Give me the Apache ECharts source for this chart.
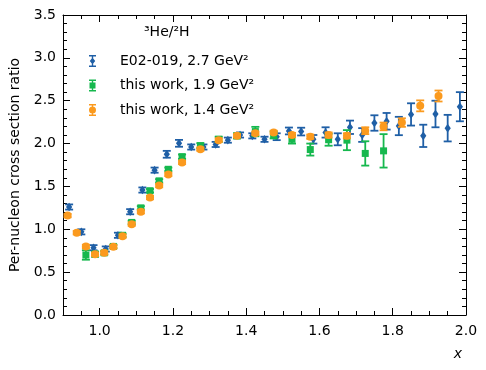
<!DOCTYPE html>
<html>
<head>
<meta charset="utf-8">
<script src="https://cdn.jsdelivr.net/npm/echarts@6.0.0/dist/echarts.min.js"></script>
<style>html,body{margin:0;padding:0;background:#fff;}#c{width:486px;height:370px;}</style>
</head>
<body>
<div id="c"></div>
<script>
// ---- data ----
const blueX = [0.9167,0.95,0.9833,1.0167,1.05,1.0833,1.1167,1.15,1.1833,1.2167,1.25,1.2833,1.3167,1.35,1.3833,1.4167,1.45,1.4833,1.5167,1.55,1.5833,1.6167,1.65,1.6833,1.7167,1.75,1.7833,1.8167,1.85,1.8833,1.9167,1.95,1.9833];
const blueY = [1.26,0.97,0.785,0.77,0.93,1.205,1.458,1.69,1.875,2.003,1.96,1.96,1.99,2.04,2.10,2.09,2.05,2.08,2.147,2.14,2.05,2.13,2.05,2.19,2.10,2.24,2.26,2.205,2.34,2.09,2.345,2.18,2.43];
const blueE = [0.03,0.03,0.03,0.03,0.03,0.03,0.03,0.03,0.04,0.04,0.03,0.03,0.03,0.03,0.03,0.03,0.03,0.04,0.04,0.045,0.05,0.06,0.07,0.078,0.08,0.09,0.097,0.107,0.13,0.13,0.155,0.155,0.17];

const greenX = [0.9625,0.9875,1.0125,1.0375,1.0625,1.0875,1.1125,1.1375,1.1625,1.1875,1.225,1.275,1.325,1.375,1.425,1.475,1.525,1.575,1.625,1.675,1.725,1.775];
const greenY = [0.70,0.71,0.725,0.80,0.93,1.08,1.25,1.45,1.565,1.70,1.847,1.975,2.05,2.09,2.14,2.10,2.05,1.93,2.045,2.04,1.885,1.915];
const greenE = [0.055,0.03,0.02,0.02,0.02,0.02,0.02,0.02,0.02,0.02,0.025,0.03,0.03,0.03,0.055,0.04,0.05,0.07,0.07,0.117,0.142,0.195];

const orangeX = [0.9125,0.9375,0.9625,0.9875,1.0125,1.0375,1.0625,1.0875,1.1125,1.1375,1.1625,1.1875,1.225,1.275,1.325,1.375,1.425,1.475,1.525,1.575,1.625,1.675,1.725,1.775,1.825,1.875,1.925];
const orangeY = [1.16,0.96,0.80,0.708,0.725,0.795,0.92,1.06,1.205,1.37,1.51,1.64,1.78,1.935,2.04,2.09,2.12,2.13,2.10,2.08,2.10,2.09,2.15,2.20,2.245,2.44,2.555];
const orangeE = [0.02,0.02,0.02,0.02,0.02,0.02,0.02,0.02,0.02,0.02,0.02,0.02,0.02,0.02,0.02,0.02,0.02,0.02,0.025,0.025,0.03,0.03,0.04,0.045,0.05,0.064,0.064];

const seriesNames = ['E02-019, 2.7 GeV\u00B2', 'this work, 1.9 GeV\u00B2', 'this work, 1.4 GeV\u00B2'];
const titleText = '\u00B3He/\u00B2H';
const xMajor = [1.0,1.2,1.4,1.6,1.8,2.0];
const xMinor = [0.9,0.95,1.05,1.1,1.15,1.25,1.3,1.35,1.45,1.5,1.55,1.65,1.7,1.75,1.85,1.9,1.95];

// ---- styling ----
const FONT = 'DejaVu Sans';
const COLORS = ['#1f5fa6', '#16b84e', '#fb9a1e'];

function pack(xs, ys, es) { return xs.map((x, i) => [x, ys[i], es[i]]); }

function makeRender(marker) {
  return function (params, api) {
    const x = api.value(0), y = api.value(1), e = api.value(2);
    const p = api.coord([x, y]);
    const t = api.coord([x, y + e]);
    const b = api.coord([x, y - e]);
    const color = api.visual('color');
    const lw = 1.8, cap = 4;
    const ls = { stroke: color, lineWidth: lw, fill: null };
    const children = [
      { type: 'line', shape: { x1: p[0], y1: t[1], x2: p[0], y2: b[1] }, style: ls },
      { type: 'line', shape: { x1: p[0] - cap, y1: t[1], x2: p[0] + cap, y2: t[1] }, style: ls },
      { type: 'line', shape: { x1: p[0] - cap, y1: b[1], x2: p[0] + cap, y2: b[1] }, style: ls }
    ];
    if (marker === 'diamond') {
      children.push({ type: 'polygon', shape: { points: [[p[0], p[1] - 4.3], [p[0] + 3.1, p[1]], [p[0], p[1] + 4.3], [p[0] - 3.1, p[1]]] }, style: { fill: color } });
    } else if (marker === 'square') {
      children.push({ type: 'rect', shape: { x: p[0] - 3.5, y: p[1] - 3.5, width: 7, height: 7 }, style: { fill: color } });
    } else {
      children.push({ type: 'circle', shape: { cx: p[0], cy: p[1], r: 4 }, style: { fill: color } });
    }
    return { type: 'group', children: children };
  };
}

const capPath = 'M0,6L0,6Z M27,6L27,6Z M1,0H8V1.6H1Z M1,10.4H8V12H1Z M3.8,0H5.2V12H3.8Z ';
const icons = [
  'path://' + capPath + 'M4.5,2.4L7.2,6L4.5,9.6L1.8,6Z',
  'path://' + capPath + 'M1.5,3H7.5V9H1.5Z',
  'path://' + capPath + 'M8,6A3.5,3.5 0 1 1 1,6A3.5,3.5 0 1 1 8,6Z'
];

function xAxisDef(pos, values, len, showLine, showLabel) {
  return {
    type: 'value', position: pos, min: 0.9, max: 2.0, gridIndex: 0,
    axisLine: { show: showLine, onZero: false, lineStyle: { color: '#000', width: 1 } },
    axisTick: { show: true, inside: true, length: len, customValues: values, lineStyle: { color: '#000', width: 1 } },
    axisLabel: { show: showLabel, customValues: values, margin: 9, color: '#000', fontSize: 14, fontFamily: FONT,
      formatter: v => Number(v).toFixed(1) },
    splitLine: { show: false }
  };
}
function yAxisDef(pos, showLabel) {
  return {
    type: 'value', position: pos, min: 0, max: 3.5, interval: 0.5,
    axisLine: { show: true, onZero: false, lineStyle: { color: '#000', width: 1 } },
    axisTick: { show: true, inside: true, length: 7, lineStyle: { color: '#000', width: 1 } },
    minorTick: { show: true, splitNumber: 5, length: 4, lineStyle: { color: '#000', width: 1 } },
    axisLabel: { show: showLabel, margin: 7, color: '#000', fontSize: 14, fontFamily: FONT, formatter: v => Number(v).toFixed(1) },
    splitLine: { show: false }, minorSplitLine: { show: false }
  };
}

const yLeft = yAxisDef('left', true);
yLeft.name = 'Per-nucleon cross section ratio';
yLeft.nameLocation = 'middle';
yLeft.nameGap = 40;
yLeft.nameTextStyle = { color: '#000', fontSize: 14, fontFamily: FONT };

const xMain = xAxisDef('bottom', xMajor, 7, true, true);
xMain.name = 'x';
xMain.nameLocation = 'end';
xMain.nameGap = 0;
xMain.nameTextStyle = { color: '#000', fontSize: 14, fontFamily: FONT, fontStyle: 'italic', align: 'right', verticalAlign: 'top', padding: [32, 4, 0, 0] };

const chart = echarts.init(document.getElementById('c'), null, { renderer: 'canvas' });
chart.setOption({
  animation: false,
  backgroundColor: '#fff',
  textStyle: { fontFamily: FONT },
  title: { text: titleText, left: 144, top: 25, padding: 0, textStyle: { color: '#000', fontSize: 14, fontWeight: 'normal', fontFamily: FONT } },
  legend: {
    orient: 'vertical', left: 88, top: 54, padding: 0, itemGap: 10.5,
    itemWidth: 27, itemHeight: 12,
    itemStyle: { borderWidth: 0 },
    textStyle: { color: '#000', fontSize: 14, fontFamily: FONT, padding: [0, 0, 0, 0] },
    data: seriesNames.map((n, i) => ({ name: n, icon: icons[i] }))
  },
  grid: { left: 63, right: 20, top: 15, bottom: 55, containLabel: false },
  xAxis: [
    xMain,
    xAxisDef('bottom', xMinor, 4, false, false),
    xAxisDef('top', xMajor, 7, true, false),
    xAxisDef('top', xMinor, 4, false, false)
  ],
  yAxis: [yLeft, yAxisDef('right', false)],
  series: [
    { name: seriesNames[0], type: 'custom', xAxisIndex: 0, yAxisIndex: 0, itemStyle: { color: COLORS[0] },
      renderItem: makeRender('diamond'), data: pack(blueX, blueY, blueE), encode: { x: 0, y: 1 }, z: 2 },
    { name: seriesNames[1], type: 'custom', xAxisIndex: 0, yAxisIndex: 0, itemStyle: { color: COLORS[1] },
      renderItem: makeRender('square'), data: pack(greenX, greenY, greenE), encode: { x: 0, y: 1 }, z: 3 },
    { name: seriesNames[2], type: 'custom', xAxisIndex: 0, yAxisIndex: 0, itemStyle: { color: COLORS[2] },
      renderItem: makeRender('circle'), data: pack(orangeX, orangeY, orangeE), encode: { x: 0, y: 1 }, z: 4 }
  ]
});
</script>
</body>
</html>
